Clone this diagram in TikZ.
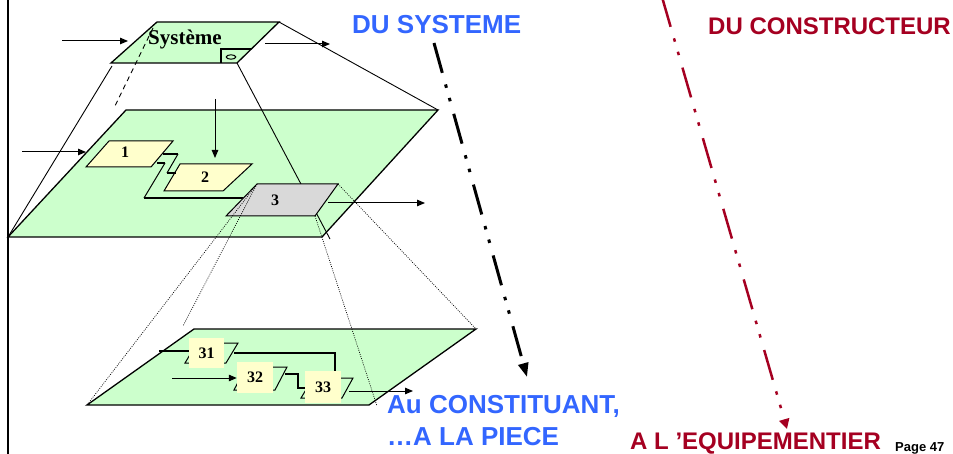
\documentclass[tikz,border=0pt]{standalone}
\usepackage{fontspec}
\setmainfont{Liberation Sans}
\newfontfamily\tnr{Liberation Serif}
\usetikzlibrary{arrows.meta}
\definecolor{plategreen}{HTML}{CCFFCC}
\definecolor{boxyellow}{HTML}{FFFFCC}
\definecolor{boxgray}{HTML}{D9D9D9}
\definecolor{titleblue}{HTML}{3366FF}
\definecolor{titlered}{HTML}{A50021}
\begin{document}
\begin{tikzpicture}[x=1pt,y=-1pt,
  plate/.style={draw=black,line width=1.3pt,line join=miter},
  thinline/.style={draw=black,line width=0.9pt},
  dotline/.style={draw=black,line width=0.7pt,dash pattern=on 0.9pt off 1.3pt},
  flow/.style={draw=black,line width=2pt},
  inarrow/.style={draw=black,line width=1pt,-{Triangle[length=8pt,width=6.5pt]}},
  lbl/.style={font=\tnr\bfseries\fontsize{16}{16}\selectfont,inner sep=0pt},
  bigblue/.style={font=\bfseries\fontsize{26}{30}\selectfont,text=titleblue,inner sep=0pt,anchor=base west},
  bigred/.style={font=\bfseries\fontsize{24}{28}\selectfont,text=titlered,inner sep=0pt,anchor=base west},
  dashdot/.style={dash pattern=on 31pt off 12pt on 3.5pt off 10.5pt on 3.5pt off 13pt}
]
\useasboundingbox (0,0) rectangle (953,454);
\fill[white] (0,0) rectangle (953,454);

% ---------- corners
\coordinate (T1) at (157,22); \coordinate (T2) at (279,22);
\coordinate (T3) at (237,63); \coordinate (T4) at (111,63);
\coordinate (M1) at (126,110); \coordinate (M2) at (438,110);
\coordinate (M3) at (322,237); \coordinate (M4) at (8,237);
\coordinate (P1a) at (109,141); \coordinate (P1b) at (173,141);
\coordinate (P1c) at (151,167); \coordinate (P1d) at (86,167);
\coordinate (P2a) at (180,164); \coordinate (P2b) at (252,164);
\coordinate (P2c) at (223,191); \coordinate (P2d) at (164,191);
\coordinate (P3a) at (257,184); \coordinate (P3b) at (338,184);
\coordinate (P3c) at (315,216); \coordinate (P3d) at (226,216);
\coordinate (B1) at (194,329); \coordinate (B2) at (476,329);
\coordinate (B3) at (369,405); \coordinate (B4) at (87,405);

% ---------- left vertical rule
\coordinate (vtop) at (8,-2); \coordinate (vbot) at (8,456);
\draw[line width=2pt] (vtop) -- (vbot);

% ---------- big (middle) plate
\filldraw[plate,fill=plategreen] (M1) -- (M2) -- (M3) -- (M4) -- cycle;

% pyramid lines from the top plate
\coordinate (pl1) at (112,66);
\draw[thinline] (pl1) -- (M4);
\draw[thinline] (T2) -- (M2);
\coordinate (dsA) at (153,28); \coordinate (dsB) at (114,108);

% ---------- top plate
\filldraw[plate,fill=plategreen] (T1) -- (T2) -- (T3) -- (T4) -- cycle;
\draw[thinline,dash pattern=on 5pt off 4pt] (dsA) -- (dsB);
\coordinate (tab1) at (221,63); \coordinate (tab2) at (221,49); \coordinate (tab3) at (251,49);
\draw[line width=1.6pt] (tab1) -- (tab2) -- (tab3);
\draw[line width=1pt] (231,57) ellipse [x radius=4.8pt, y radius=2.2pt];
\node[font=\tnr\bfseries\fontsize{21}{21}\selectfont,inner sep=0pt,anchor=base west] (sys) at (148,45) {Système};

\coordinate (sin0) at (62,41); \coordinate (sin1) at (128,41);
\draw[inarrow] (sin0) -- (sin1);
\coordinate (sout0) at (265,44); \coordinate (sout1) at (330,44);
\draw[inarrow] (sout0) -- (sout1);

% ---------- middle plate contents
\coordinate (min0) at (22,152); \coordinate (min1) at (86,152);
\draw[inarrow] (min0) -- (min1);
\coordinate (dn0) at (215,99); \coordinate (dn1) at (215,158);
\draw[inarrow] (dn0) -- (dn1);

\filldraw[plate,line width=1pt,fill=boxyellow] (P1a) -- (P1b) -- (P1c) -- (P1d) -- cycle;
\filldraw[plate,line width=1pt,fill=boxyellow] (P2a) -- (P2b) -- (P2c) -- (P2d) -- cycle;
\node[lbl] (n1) at (125,152) {1};
\node[lbl] (n2) at (205,177) {2};

\coordinate (c1a) at (163,154); \coordinate (c1b) at (178,154);
\coordinate (c1c) at (167,173); \coordinate (c1d) at (176,173);
\draw[flow] (c1a) -- (c1b);
\draw[line width=1pt] (c1b) -- (c1c);
\draw[flow] (c1c) -- (c1d);
\coordinate (c2a) at (157,163); \coordinate (c2b) at (165,163);
\coordinate (c2c) at (144,198); \coordinate (c2d) at (243,198);
\draw[flow] (c2a) -- (c2b);
\draw[line width=1pt] (c2b) -- (c2c);
\draw[flow] (c2c) -- (c2d);

% solid line from the top plate, passing behind plate 3
\coordinate (sl1) at (330,239);
\draw[thinline] (T3) -- (sl1);

\filldraw[plate,line width=1pt,fill=boxgray] (P3a) -- (P3b) -- (P3c) -- (P3d) -- cycle;
\node[lbl] (n3) at (275,200) {3};
\coordinate (o30) at (328,203); \coordinate (o31) at (425,203);
\draw[inarrow] (o30) -- (o31);

% ---------- bottom plate
\filldraw[plate,fill=plategreen] (B1) -- (B2) -- (B3) -- (B4) -- cycle;

% hidden parallelograms behind the blocks
\draw[line width=1pt] (185,363) -- (226,363) -- (238,343) -- (197,343) -- cycle;
\draw[line width=1pt] (234,390) -- (275,390) -- (287,367) -- (246,367) -- cycle;
\draw[line width=1pt] (301,398) -- (342,398) -- (353,378) -- (313,378) -- cycle;
\node[fill=boxyellow,minimum width=35pt,minimum height=30pt,inner sep=0pt] (b31) at (206.5,353) {};
\node[fill=boxyellow,minimum width=36pt,minimum height=31pt,inner sep=0pt] (b32) at (255,377.5) {};
\node[fill=boxyellow,minimum width=36pt,minimum height=32pt,inner sep=0pt] (b33) at (323,387) {};
\node[lbl] (t31) at (b31) {31};
\node[lbl] (t32) at (b32) {32};
\node[lbl] (t33) at (b33) {33};

\coordinate (f0) at (159,351);
\draw[flow] (f0) -- (b31.west |- f0);
\coordinate (f1) at (234,353); \coordinate (f2) at (335,353);
\draw[flow] (f1) -- (f2) -- (b33.north -| f2);
\coordinate (a320) at (172,378);
\draw[inarrow] (a320) -- (b32.west |- a320);
\coordinate (g1) at (285,374); \coordinate (g2) at (298,374);
\coordinate (g3) at (298,388); \coordinate (g4) at (305,388);
\draw[flow] (g1) -- (g2) -- (g3) -- (g4);
\coordinate (o330) at (349,391); \coordinate (o331) at (413,391);
\draw[inarrow] (o330) -- (o331);

% ---------- dotted projection lines from plate 3
\coordinate (dl2) at (183,326); \coordinate (dl4) at (377,406);
\draw[dotline] (P3a) -- (B4);
\draw[dotline] (P3a) -- (dl2);
\draw[dotline] (P3b) -- (B2);
\draw[dotline] (P3c) -- (dl4);

% ---------- titles
\node[bigblue] (dusys) at (352,34) {DU SYSTEME};
\node[bigred] (ducons) at (708,35) {DU CONSTRUCTEUR};
\node[bigblue] (auc) at (387,413) {Au CONSTITUANT,};
\node[bigblue] (alp) at (387,445) {…A LA PIECE};
\node[bigred] (aleq) at (630,449.5) {A L ’EQUIPEMENTIER};
\node[font=\bfseries\fontsize{13}{13}\selectfont,inner sep=0pt,anchor=base west] (page) at (895,451) {Page 47};

% ---------- dash-dot arrows
\coordinate (bk0) at (434,43); \coordinate (bk1) at (527,377);
\draw[line width=3pt,dashdot,-{Triangle[length=14pt,width=10pt]}] (bk0) -- (bk1);
\coordinate (rd0) at (662,-3); \coordinate (rd1) at (787,429);
\draw[draw=titlered,line width=2.5pt,dashdot,-{Triangle[length=10pt,width=10pt]}] (rd0) -- (rd1);
\end{tikzpicture}
\end{document}
